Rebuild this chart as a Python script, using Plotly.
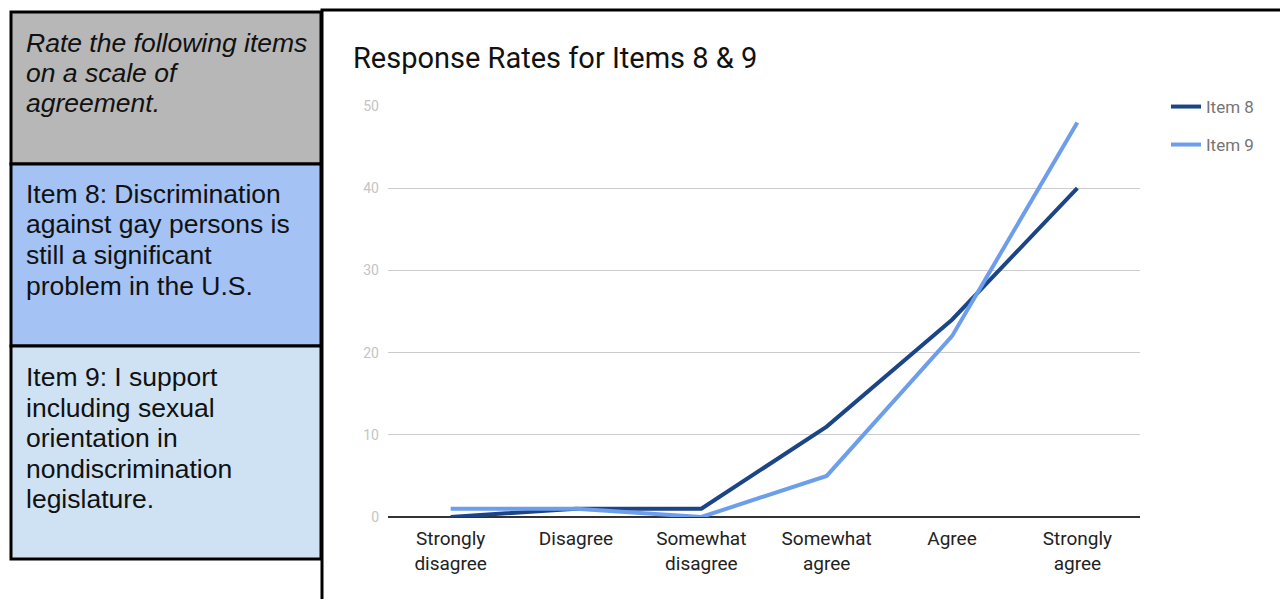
import plotly.graph_objects as go

categories = ["Strongly<br>disagree", "Disagree", "Somewhat<br>disagree",
              "Somewhat<br>agree", "Agree", "Strongly<br>agree"]
item8 = [0, 1, 1, 11, 24, 40]
item9 = [1, 1, 0, 5, 22, 48]
y_ticks = [0, 10, 20, 30, 40, 50]

W, H = 1280, 599


def px_x(x):
    return x / W


def px_y(y):
    return 1 - y / H


fig = go.Figure()
fig.add_trace(go.Scatter(x=categories, y=item8, name="Item 8", mode="lines", showlegend=True,
                         line=dict(color="#1c4587", width=4), legend="legend"))
fig.add_trace(go.Scatter(x=categories, y=item9, name="Item 9", mode="lines", showlegend=True,
                         line=dict(color="#6d9eeb", width=4), legend="legend2"))

shapes = []
# left panel boxes
boxes = [(12, 164, "#b7b7b7"), (164, 346, "#a4c2f4"), (346, 559, "#cfe2f3")]
for top, bot, col in boxes:
    shapes.append(dict(type="rect", xref="paper", yref="paper",
                       x0=px_x(11), x1=px_x(321), y0=px_y(bot), y1=px_y(top),
                       fillcolor=col, line=dict(color="black", width=3), layer="below"))
# chart border
shapes.append(dict(type="rect", xref="paper", yref="paper",
                   x0=px_x(322), x1=px_x(1300), y0=px_y(640), y1=px_y(10),
                   line=dict(color="black", width=3), fillcolor="rgba(0,0,0,0)"))

# text of the left panel, one entry per line: (centre y in px, text, italic)
box_lines = [
    (43, "Rate the following items", True), (73, "on a scale of", True), (103, "agreement.", True),
    (194, "Item 8: Discrimination", False), (224, "against gay persons is", False),
    (255, "still a significant", False), (286, "problem in the U.S.", False),
    (377, "Item 9: I support", False), (408, "including sexual", False),
    (438, "orientation in", False), (469, "nondiscrimination", False), (499, "legislature.", False),
]
annotations = []
for y, txt, it in box_lines:
    annotations.append(dict(xref="paper", yref="paper", x=px_x(24), y=px_y(y),
                            xanchor="left", yanchor="middle", align="left", showarrow=False,
                            text=f"<i>{txt}</i>" if it else txt,
                            font=dict(family="Liberation Sans, Arial", size=26.5, color="#111")))
annotations.append(dict(xref="paper", yref="paper", x=px_x(351), y=px_y(58),
                        xanchor="left", yanchor="middle", showarrow=False,
                        text="Response Rates for Items 8 & 9",
                        font=dict(family="Roboto", size=29, color="#111")))

legend_style = dict(font=dict(family="Roboto", size=17, color="#757575"),
                    bgcolor="rgba(0,0,0,0)", xanchor="left", yanchor="middle",
                    itemwidth=30)

fig.update_layout(
    width=W, height=H,
    margin=dict(l=0, r=0, t=0, b=0, autoexpand=False),
    paper_bgcolor="white", plot_bgcolor="white",
    shapes=shapes, annotations=annotations, showlegend=True,
    xaxis=dict(domain=[px_x(388), px_x(1140)], range=[-0.5, 5.5], showgrid=False,
               tickfont=dict(family="Roboto", size=19, color="#222"), ticks="",
               ticklabelstandoff=8, fixedrange=True),
    yaxis=dict(domain=[px_y(517), px_y(106)], range=[0, 50], tickvals=y_ticks,
               gridcolor="#cccccc", gridwidth=1, zeroline=True, zerolinecolor="#333333",
               zerolinewidth=1.5, tickfont=dict(family="Roboto", size=14, color="#c4c4c4"),
               ticklabelstandoff=8, fixedrange=True),
    legend=dict(x=px_x(1166), y=px_y(107), **legend_style),
    legend2=dict(x=px_x(1166), y=px_y(145), **legend_style),
)

fig.write_html("out.html", config={"displayModeBar": False},
               post_script="document.body.style.margin='0';")
